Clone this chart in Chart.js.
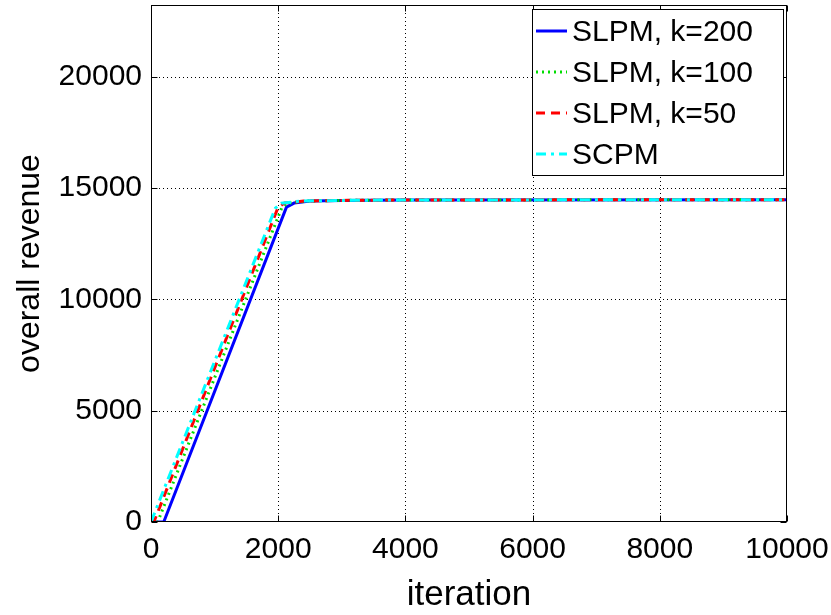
<!DOCTYPE html>
<html>
<head>
<meta charset="utf-8">
<script src="https://cdn.jsdelivr.net/npm/chart.js@4.4.1/dist/chart.umd.min.js"></script>
<style>
html,body{margin:0;padding:0;background:#fff;}
#wrap{width:831px;height:615px;position:relative;}
</style>
</head>
<body>
<div id="wrap"><canvas id="c" width="831" height="615"></canvas></div>
<script>
// ---- data ----
const seriesLabels = ["SLPM, k=200", "SLPM, k=100", "SLPM, k=50", "SCPM"];
const xK200 = [0, 200, 2130, 2250, 2500, 3000, 4000, 10000];
const yK200 = [0, 0, 14150, 14330, 14420, 14450, 14470, 14480];
const xK100 = [0, 105, 2060, 2150, 2450, 3000, 4000, 10000];
const yK100 = [0, 0, 14150, 14330, 14420, 14450, 14470, 14480];
const xK50  = [0, 45, 2000, 2100, 2400, 3000, 4000, 10000];
const yK50  = [0, 0, 14150, 14330, 14420, 14450, 14470, 14480];
const xSCPM = [0, 0, 1955, 2050, 2350, 3000, 4000, 10000];
const ySCPM = [0, 0, 14100, 14320, 14420, 14450, 14470, 14480];
const xTicks = [0, 2000, 4000, 6000, 8000, 10000];
const yTicks = [0, 5000, 10000, 15000, 20000];
const xTitle = "iteration";
const yTitle = "overall revenue";

const pts = (xs, ys) => xs.map((x, i) => ({x: x, y: ys[i]}));

const styles = [
  {color: "#0000ff", dash: []},
  {color: "#00dd00", dash: [2, 4]},
  {color: "#ff0000", dash: [9, 6]},
  {color: "#00ffff", dash: [10, 5, 3, 5]}
];
const dataSets = [pts(xK200, yK200), pts(xK100, yK100), pts(xK50, yK50), pts(xSCPM, ySCPM)];

const frameAndGrid = {
  id: "frameAndGrid",
  beforeDatasetsDraw(chart) {
    const {ctx, chartArea: a, scales: {x, y}} = chart;
    ctx.save();
    ctx.strokeStyle = "#000";
    ctx.lineWidth = 1;
    ctx.setLineDash([1, 3]);
    xTicks.forEach(v => {
      const px = Math.round(x.getPixelForValue(v)) + 0.5;
      if (v === xTicks[0] || v === xTicks[xTicks.length - 1]) return;
      ctx.beginPath(); ctx.moveTo(px, a.top); ctx.lineTo(px, a.bottom); ctx.stroke();
    });
    yTicks.forEach(v => {
      const py = Math.round(y.getPixelForValue(v)) + 0.5;
      if (v === 0) return;
      ctx.beginPath(); ctx.moveTo(a.left, py); ctx.lineTo(a.right, py); ctx.stroke();
    });
    ctx.restore();
  },
  afterDatasetsDraw(chart) {
    const {ctx, chartArea: a, scales: {x, y}} = chart;
    ctx.save();
    ctx.strokeStyle = "#000";
    ctx.lineWidth = 1;
    ctx.setLineDash([]);
    const L = Math.round(a.left) + 0.5, R = Math.round(a.right) - 0.5;
    const T = Math.round(a.top) + 0.5, B = Math.round(a.bottom) - 0.5;
    ctx.strokeRect(L, T, R - L, B - T);
    const tl = 6;
    xTicks.forEach(v => {
      const px = Math.round(x.getPixelForValue(v)) + 0.5;
      ctx.beginPath();
      ctx.moveTo(px, B); ctx.lineTo(px, B - tl);
      ctx.moveTo(px, T); ctx.lineTo(px, T + tl);
      ctx.stroke();
    });
    yTicks.forEach(v => {
      const py = Math.round(y.getPixelForValue(v)) + 0.5;
      ctx.beginPath();
      ctx.moveTo(L, py); ctx.lineTo(L + tl, py);
      ctx.moveTo(R, py); ctx.lineTo(R - tl, py);
      ctx.stroke();
    });
    // legend
    const bx = 532.5, by = 9.5, bw = 251, bh = 166;
    ctx.fillStyle = "#fff";
    ctx.fillRect(bx, by, bw, bh);
    ctx.strokeRect(bx, by, bw, bh);
    ctx.font = "30px 'Liberation Sans', Arial, sans-serif";
    ctx.textBaseline = "middle";
    ctx.textAlign = "left";
    const rowY = [33, 74, 115, 156];
    chart.data.datasets.forEach((ds, i) => {
      const yy = rowY[i];
      ctx.save();
      ctx.strokeStyle = ds.borderColor;
      ctx.lineWidth = 3;
      ctx.setLineDash(ds.borderDash || []);
      ctx.beginPath(); ctx.moveTo(536, yy - 2); ctx.lineTo(567, yy - 2); ctx.stroke();
      ctx.restore();
      ctx.fillStyle = "#000";
      ctx.fillText(ds.label, 572, yy);
    });
    ctx.restore();
  }
};

const noPad = s => { s.paddingTop = 0; s.paddingBottom = 0; s.paddingLeft = 0; s.paddingRight = 0; };

new Chart(document.getElementById("c"), {
  type: "line",
  data: {
    datasets: seriesLabels.map((lab, i) => ({
      label: lab,
      data: dataSets[i],
      borderColor: styles[i].color,
      backgroundColor: styles[i].color,
      borderDash: styles[i].dash,
      borderWidth: 3,
      pointRadius: 0,
      tension: 0,
      fill: false,
      order: 4 - i
    }))
  },
  options: {
    responsive: false,
    animation: false,
    devicePixelRatio: 1,
    layout: {padding: {left: 0, top: 5, right: 44, bottom: 0}},
    plugins: {legend: {display: false}, tooltip: {enabled: false}},
    scales: {
      x: {
        type: "linear",
        min: 0, max: 10000,
        afterBuildTicks: s => { s.ticks = xTicks.map(v => ({value: v})); },
        afterFit: s => { s.height = 93; noPad(s); },
        grid: {display: false, drawTicks: false},
        border: {display: false},
        ticks: {
          color: "#000", padding: 10, maxRotation: 0, autoSkip: false,
          callback: v => String(v),
          font: {family: "'Liberation Sans', Arial, sans-serif", size: 30}
        },
        title: {
          display: true, text: xTitle, color: "#000", padding: {top: 0, bottom: -1},
          font: {family: "'Liberation Sans', Arial, sans-serif", size: 35}
        }
      },
      y: {
        type: "linear",
        min: 0, max: 23230,
        afterBuildTicks: s => { s.ticks = yTicks.map(v => ({value: v})); },
        afterFit: s => { s.width = 151; noPad(s); },
        grid: {display: false, drawTicks: false},
        border: {display: false},
        ticks: {
          color: "#000", padding: 9,
          callback: v => String(v),
          font: {family: "'Liberation Sans', Arial, sans-serif", size: 30}
        },
        title: {
          display: true, text: yTitle, color: "#000", padding: {top: 11, bottom: 0},
          font: {family: "'Liberation Sans', Arial, sans-serif", size: 32}
        }
      }
    }
  },
  plugins: [frameAndGrid]
});
</script>
</body>
</html>
